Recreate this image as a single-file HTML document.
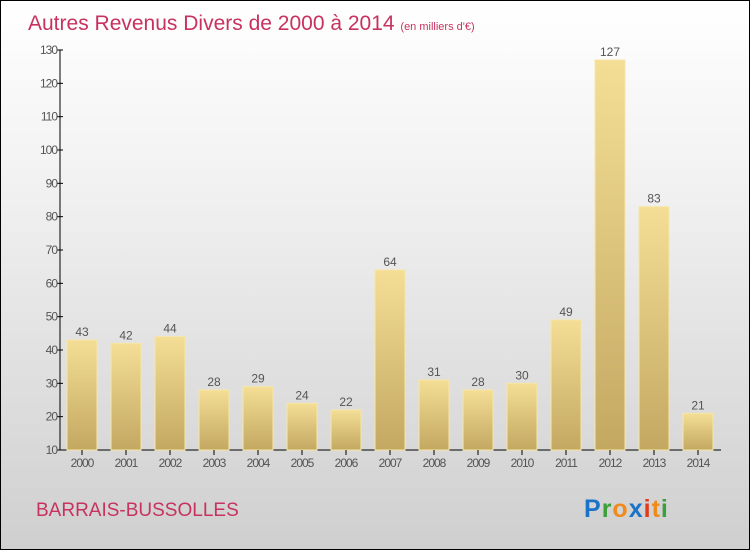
<!DOCTYPE html>
<html><head><meta charset="utf-8"><style>
body{margin:0}
#c{width:748px;height:548px;border:1px solid #000;background:linear-gradient(#fff,#f3f3f3 30%,#cfcfcf);position:relative;font-family:"Liberation Sans",sans-serif}
</style></head><body>
<div id="c">
<svg width="748" height="548" id="s">
<text x="27" y="29" font-size="21" fill="#c8325f">Autres Revenus Divers de 2000 à 2014 <tspan font-size="11">(en milliers d'€)</tspan></text>
<text x="35" y="515" font-size="19" fill="#c8325f">BARRAIS-BUSSOLLES</text>
<text x="583" y="516" font-size="25" font-weight="bold" letter-spacing="1"><tspan fill="#1a73c9">P</tspan><tspan fill="#3aa03a">r</tspan><tspan fill="#f08a1c">o</tspan><tspan fill="#1a73c9">x</tspan><tspan fill="#e03c1c">i</tspan><tspan fill="#f08a1c">t</tspan><tspan fill="#3aa03a">i</tspan></text>
<defs><linearGradient id="g" x1="0" y1="0" x2="0" y2="1"><stop offset="0" stop-color="#f4de96"/><stop offset="1" stop-color="#c3a862"/></linearGradient></defs>
<g id="plot"></g>
</svg>
</div>
<script>
const years=["2000","2001","2002","2003","2004","2005","2006","2007","2008","2009","2010","2011","2012","2013","2014"];
const values=[43,42,44,28,29,24,22,64,31,28,30,49,127,83,21];
const ticks=[10,20,30,40,50,60,70,80,90,100,110,120,130];
const NS="http://www.w3.org/2000/svg";
const g=document.getElementById('plot');
const y=v=>449-(v-10)*400/120;
const x=i=>81+i*44;
function mk(t,a){const e=document.createElementNS(NS,t);for(const k in a)e.setAttribute(k,a[k]);g.appendChild(e);return e;}
let ax=mk('line',{x1:59,y1:49,x2:59,y2:449,stroke:'#000'});


let bx=mk('line',{x1:59,y1:449,x2:720,y2:449,stroke:'#000'});


ticks.forEach(t=>{
 let l=mk('line',{x1:56,y1:y(t),x2:62,y2:y(t),stroke:'#000'});
 
 
 let tx=mk('text',{x:56,y:y(t)+4,'font-size':12,'text-anchor':'end',fill:'#555','letter-spacing':'-1'});
 tx.textContent=t;
 
 
});
years.forEach((yr,i)=>{
 const v=values[i];
 let r=mk('rect',{x:x(i)-15,y:y(v),width:30,height:449-y(v),fill:'url(#g)',stroke:'#f7e6a6','stroke-width':1});
 
 
 let l=mk('line',{x1:x(i),y1:449,x2:x(i),y2:454,stroke:'#000'});
 
 
 let t=mk('text',{x:x(i),y:466,'font-size':12,'text-anchor':'middle',fill:'#555','letter-spacing':'-1'});
 t.textContent=yr;
 
 
 let vl=mk('text',{x:x(i),y:y(v)-4,'font-size':12,'text-anchor':'middle',fill:'#555'});
 vl.textContent=v;
 
 
});
</script>
</body></html>
